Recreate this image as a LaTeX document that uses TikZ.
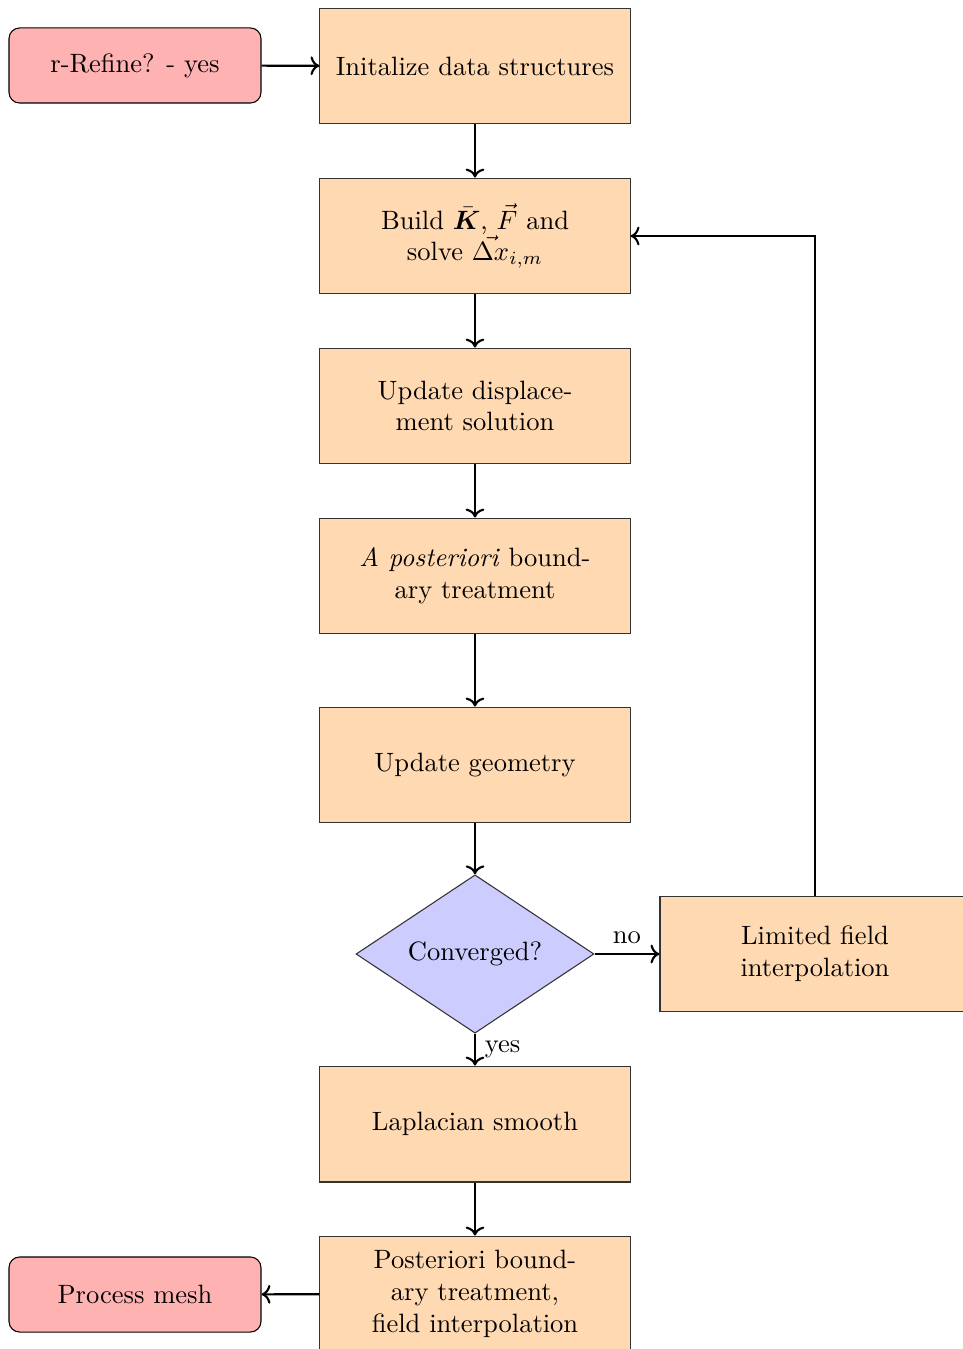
\documentclass[tikz,border=0pt]{standalone}
\usepackage{amsmath}
\usepackage{bm}
\usetikzlibrary{shapes.geometric,arrows.meta}
\begin{document}
\begin{tikzpicture}[x=0.377pt,y=-0.377pt,
  procbox/.style={rectangle,draw=black!80,fill=orange!30,minimum width=116.9pt,minimum height=43.7pt,align=center,inner sep=2pt},
  termbox/.style={rectangle,rounded corners=4pt,draw=black,fill=red!30,minimum width=95pt,minimum height=28.3pt,align=center},
  decbox/.style={diamond,draw=black!80,fill=blue!20,minimum width=89.7pt,minimum height=59.6pt,inner sep=0pt,align=center},
  flow/.style={thick,->}]
\useasboundingbox (0,0) rectangle (963,1349);
\node[termbox] (refine) at (135,65.5) {r-Refine? - yes};
\node[procbox] (init) at (475,66) {Initalize data structures};
\node[procbox] (build) at (475,236) {Build $\bar{\bm{K}}$, $\vec{F}$ and\\ solve $\vec{\Delta x}_{i,m}$};
\node[procbox] (disp) at (475,406) {Update displace-\\ment solution};
\node[procbox] (apost) at (475,576) {\textit{A posteriori} bound-\\ary treatment};
\node[procbox] (geom) at (475,765) {Update geometry};
\node[decbox] (conv) at (475,954) {Converged?};
\node[procbox] (lim) at (815,954) {Limited field\\ interpolation};
\node[procbox] (lap) at (475,1124) {Laplacian smooth};
\node[procbox] (post) at (475,1294) {Posteriori bound-\\ary treatment,\\ field interpolation};
\node[termbox] (mesh) at (135,1294.5) {Process mesh};
\draw[flow] (refine) -- (init);
\draw[flow] (init) -- (build);
\draw[flow] (build) -- (disp);
\draw[flow] (disp) -- (apost);
\draw[flow] (apost) -- (geom);
\draw[flow] (geom) -- (conv);
\draw[flow] (conv) -- node[above] {no} (lim);
\draw[flow] (conv) -- node[right] {yes} (lap);
\draw[flow] (lim.north) |- (build.east);
\draw[flow] (lap) -- (post);
\draw[flow] (post) -- (mesh);
\end{tikzpicture}
\end{document}
